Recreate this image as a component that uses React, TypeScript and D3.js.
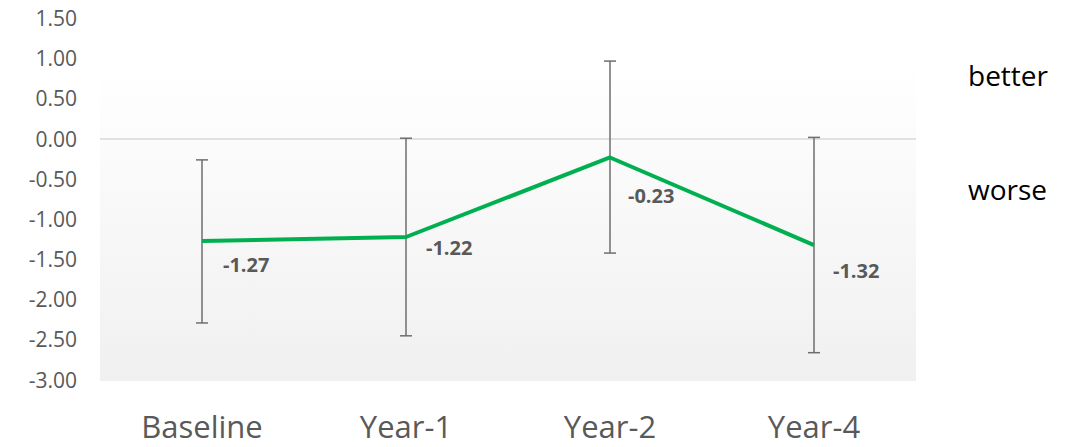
import React from 'react'
import * as d3 from 'd3'

const categories = ['Baseline', 'Year-1', 'Year-2', 'Year-4']
const means = [-1.27, -1.22, -0.23, -1.32]
const errLow = [-2.29, -2.45, -1.42, -2.66]
const errHigh = [-0.26, 0.01, 0.97, 0.02]
const yTicks = [1.5, 1.0, 0.5, 0.0, -0.5, -1.0, -1.5, -2.0, -2.5, -3.0]

// manual label nudges, as in the original chart
const labelDx = [21, 20, 18, 19]
const labelDy = [31, 18, 46, 33]

const W = 1076
const H = 447
const plot = { left: 100, right: 916, top: 66, bottom: 381 }

// excel style: plain hyphen for negatives
const fmt = (v: number) => d3.format('.2f')(v).replace('\u2212', '-')

const App = () => {
  const x = d3.scaleBand<string>().domain(categories).range([plot.left, plot.right])
  const y = d3.scaleLinear().domain([-3, 1.5]).range([380, 18.5])
  const cx = (c: string) => (x(c) ?? 0) + x.bandwidth() / 2

  const line = d3
    .line<number>()
    .x((_, i) => cx(categories[i]))
    .y(d => y(d))

  const grey = '#595959'
  const font = '"Open Sans", sans-serif'

  return (
    <svg width={W} height={H} style={{ position: 'absolute', left: 0, top: 0 }}>
      <defs>
        <linearGradient id='bg' x1='0' y1='0' x2='0' y2='1'>
          <stop offset='0%' stopColor='#ffffff' />
          <stop offset='100%' stopColor='#f0f0f0' />
        </linearGradient>
      </defs>
      <rect
        x={plot.left}
        y={plot.top}
        width={plot.right - plot.left}
        height={plot.bottom - plot.top}
        fill='url(#bg)'
      />
      <line x1={plot.left} x2={plot.right} y1={y(0)} y2={y(0)} stroke='#d9d9d9' strokeWidth={1.5} />

      {yTicks.map(t => (
        <text
          key={t}
          x={77}
          y={y(t)}
          dy='0.36em'
          textAnchor='end'
          fontFamily={font}
          fontSize={21}
          fill={grey}
        >
          {fmt(t)}
        </text>
      ))}

      {categories.map((c, i) => (
        <g key={c}>
          <line x1={cx(c)} x2={cx(c)} y1={y(errHigh[i])} y2={y(errLow[i])} stroke='#6e6e6e' strokeWidth={1.5} />
          <line x1={cx(c) - 6} x2={cx(c) + 6} y1={y(errHigh[i])} y2={y(errHigh[i])} stroke='#6e6e6e' strokeWidth={1.5} />
          <line x1={cx(c) - 6} x2={cx(c) + 6} y1={y(errLow[i])} y2={y(errLow[i])} stroke='#6e6e6e' strokeWidth={1.5} />
        </g>
      ))}

      <path d={line(means) ?? ''} fill='none' stroke='#00b050' strokeWidth={4} strokeLinejoin='round' />

      {categories.map((c, i) => (
        <text
          key={'l' + c}
          x={cx(c) + labelDx[i]}
          y={y(means[i]) + labelDy[i]}
          fontFamily={font}
          fontWeight='bold'
          fontSize={20}
          fill={grey}
        >
          {fmt(means[i])}
        </text>
      ))}

      {categories.map(c => (
        <text key={'c' + c} x={cx(c)} y={438} textAnchor='middle' fontFamily={font} fontSize={31} fill={grey}>
          {c}
        </text>
      ))}

      <text x={968} y={86} fontFamily={font} fontSize={28} fill='#000'>
        better
      </text>
      <text x={968} y={200} fontFamily={font} fontSize={28} fill='#000'>
        worse
      </text>
    </svg>
  )
}

export default App
